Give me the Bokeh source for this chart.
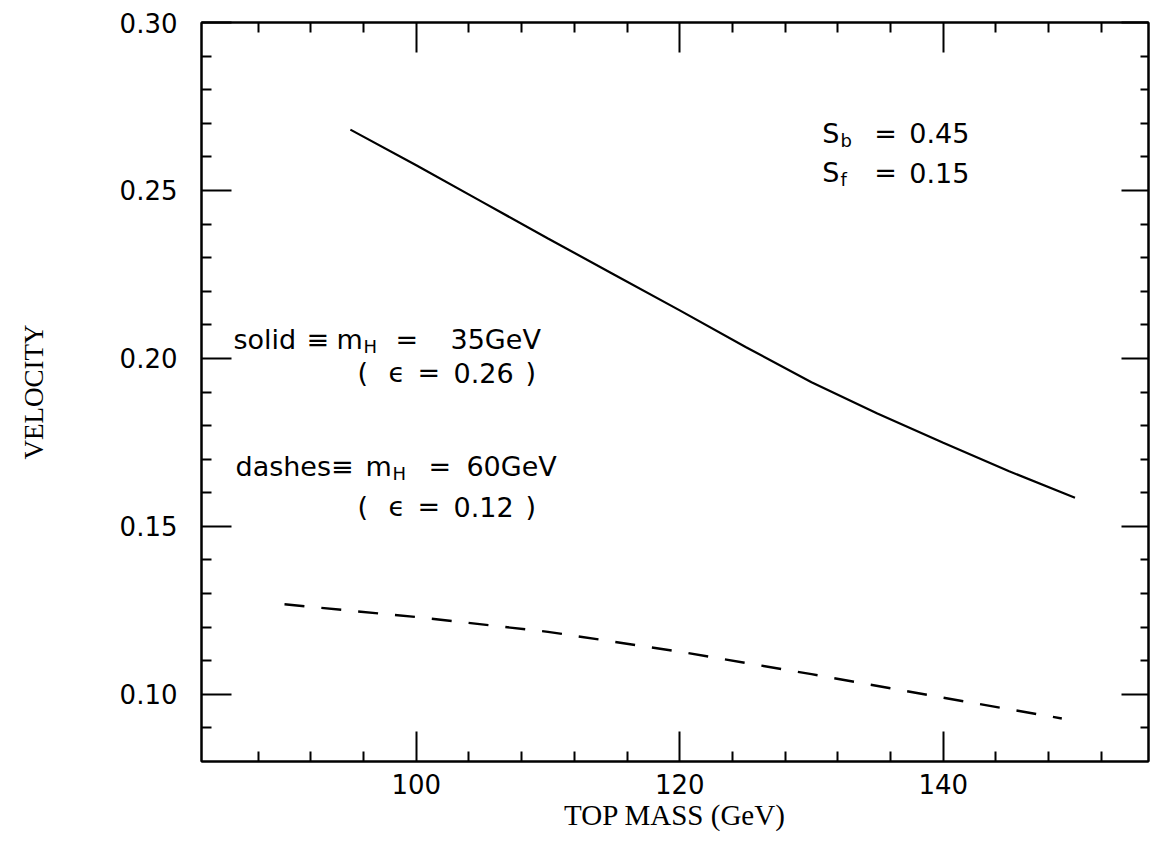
from bokeh.plotting import figure
from bokeh.models import Range1d, LinearAxis, FixedTicker, Label, PrintfTickFormatter
from bokeh.embed import file_html
from bokeh.resources import INLINE

# ---- data ----
mass_solid = [95, 100, 105, 110, 115, 120, 125, 130, 135, 140, 145, 150]
vel_solid = [0.2681, 0.2575, 0.2466, 0.2357, 0.2250, 0.2143, 0.2034, 0.1929,
             0.1836, 0.1749, 0.1664, 0.1585]

mass_dash = [90, 100, 110, 120, 130, 140, 149]
vel_dash = [0.1268, 0.1230, 0.1186, 0.1127, 0.1060, 0.0990, 0.0928]

x_major = [100, 120, 140]
x_minor = [88, 92, 96, 104, 108, 112, 116, 124, 128, 132, 136, 144, 148, 152]
y_major = [0.10, 0.15, 0.20, 0.25, 0.30]
y_minor = [0.09, 0.11, 0.12, 0.13, 0.14, 0.16, 0.17, 0.18, 0.19,
           0.21, 0.22, 0.23, 0.24, 0.26, 0.27, 0.28, 0.29]

x_title = "TOP MASS (GeV)"
y_title = "VELOCITY"

TICK_FONT = "DejaVu Sans"
TITLE_FONT = "Liberation Serif"
ANN_FONT = "DejaVu Sans"

p = figure(frame_width=947, frame_height=739,
           x_range=Range1d(83.7, 155.58), y_range=Range1d(0.08, 0.30),
           output_backend="svg", toolbar_location=None,
           min_border_left=201, min_border_top=22, min_border_right=2, min_border_bottom=60)

p.grid.visible = False
p.outline_line_color = "black"
p.outline_line_width = 2
p.background_fill_color = "white"
p.border_fill_color = "white"

bottom = p.below[0]
left = p.left[0]
top = LinearAxis()
right = LinearAxis()
p.add_layout(top, "above")
p.add_layout(right, "right")

bottom.axis_label = x_title
left.axis_label = y_title

for ax in [bottom, top]:
    ax.ticker = FixedTicker(ticks=x_major, minor_ticks=x_minor)
for ax in [left, right]:
    ax.ticker = FixedTicker(ticks=y_major, minor_ticks=y_minor)

left.formatter = PrintfTickFormatter(format="%.2f")

for ax in [bottom, top, left, right]:
    ax.axis_line_color = "black"
    ax.axis_line_width = 2
    ax.major_tick_line_color = "black"
    ax.minor_tick_line_color = "black"
    ax.major_tick_line_width = 2
    ax.minor_tick_line_width = 2
    ax.major_tick_out = 0
    ax.minor_tick_out = 0
    ax.major_tick_in = 30
    ax.minor_tick_in = 10
    ax.major_label_text_font = TICK_FONT
    ax.major_label_text_font_size = "26px"
    ax.major_label_text_color = "black"
    ax.axis_label_text_font = TITLE_FONT
    ax.axis_label_text_font_style = "normal"
    ax.axis_label_text_color = "black"

bottom.axis_label_text_font_size = "29px"
left.axis_label_text_font_size = "27px"

right.major_tick_in = 27
right.minor_tick_in = 8
for ax in [top, right]:
    ax.major_label_text_font_size = "1px"
    ax.major_label_text_color = None
    ax.major_label_standoff = 0
    ax.axis_label = None

bottom.major_label_standoff = 12
bottom.axis_label_standoff = 2
left.major_label_standoff = 24
left.axis_label_standoff = 68

p.line(mass_solid, vel_solid, line_color="black", line_width=2.2)
p.line(mass_dash, vel_dash, line_color="black", line_width=2.4, line_dash="20 17")

# ---- annotations (text pieces, data coordinates) ----
def lab(x, y, t, size="27px"):
    p.add_layout(Label(x=x, y=y, text=t, text_font=ANN_FONT, text_font_size=size,
                       text_color="black", text_baseline="alphabetic", text_align="left"))

# solid = m_H = 35GeV
lab(86.13, 0.2056, "solid")
lab(91.67, 0.2056, "\u2261")
lab(93.95, 0.2056, "m")
lab(95.99, 0.2035, "H", "18px")
lab(98.42, 0.2056, "=")
lab(102.60, 0.2056, "35GeV")
lab(95.54, 0.1958, "(")
lab(97.89, 0.1958, "\u03f5")
lab(100.09, 0.1958, "=")
lab(102.83, 0.1958, "0.26")
lab(108.29, 0.1958, ")")

# dashes = m_H = 60GeV
lab(86.28, 0.1678, "dashes\u2261")
lab(96.15, 0.1678, "m")
lab(98.20, 0.1657, "H", "18px")
lab(100.93, 0.1678, "=")
lab(103.81, 0.1678, "60GeV")
lab(95.54, 0.1559, "(")
lab(97.89, 0.1559, "\u03f5")
lab(100.09, 0.1559, "=")
lab(102.83, 0.1559, "0.12")
lab(108.29, 0.1559, ")")

# S_b, S_f
lab(130.82, 0.2670, "S")
lab(132.20, 0.2649, "b", "18px")
lab(134.76, 0.2670, "=")
lab(137.42, 0.2670, "0.45")
lab(130.82, 0.2553, "S")
lab(132.20, 0.2533, "f", "18px")
lab(134.76, 0.2553, "=")
lab(137.42, 0.2553, "0.15")

open("out.html", "w").write(file_html(p, INLINE))
